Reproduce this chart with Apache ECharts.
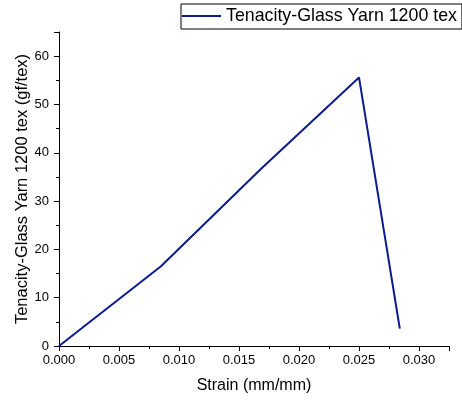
<!DOCTYPE html>
<html>
<head>
<meta charset="utf-8">
<script src="https://cdn.jsdelivr.net/npm/echarts@6/dist/echarts.min.js"></script>
<style>html,body{margin:0;padding:0;background:#fff}#c{width:462px;height:401px}</style>
</head>
<body>
<div id="c"></div>
<script>
var seriesName = 'Tenacity-Glass Yarn 1200 tex';
var strain = [0, 0.0085, 0.0168, 0.025, 0.0284];
var tenacity = [0, 16.5, 36.6, 55.6, 3.6];
var xTicks = [0, 0.005, 0.010, 0.015, 0.020, 0.025, 0.030];
var yTicks = [0, 10, 20, 30, 40, 50, 60];

var FONT = 'Arial';
var chart = echarts.init(document.getElementById('c'), null, {renderer: 'canvas'});
var points = strain.map(function (x, i) { return [x, tenacity[i]]; });
chart.setOption({
  animation: false,
  backgroundColor: '#fff',
  textStyle: {fontFamily: FONT},
  grid: {left: 59, right: 13, top: 32, bottom: 55, containLabel: false},
  legend: {
    left: 181, top: 4,
    padding: [3, 5, 4, 1],
    borderColor: '#000', borderWidth: 1,
    itemWidth: 39, itemHeight: 2,
    icon: 'rect',
    textStyle: {fontFamily: FONT, fontSize: 17.8, color: '#000'},
    data: [seriesName]
  },
  xAxis: {
    type: 'value', min: 0, max: 0.0325, interval: 0.005,
    name: 'Strain (mm/mm)', nameLocation: 'middle', nameGap: 32, nameMoveOverlap: false,
    nameTextStyle: {fontFamily: FONT, fontSize: 16, color: '#000'},
    axisLine: {show: true, lineStyle: {color: '#000', width: 1}},
    axisTick: {show: true, inside: false, length: 5, lineStyle: {color: '#000'}},
    minorTick: {show: true, splitNumber: 2, length: 3, lineStyle: {color: '#000'}},
    splitLine: {show: false},
    axisLabel: {
      margin: 8, fontFamily: FONT, fontSize: 13, color: '#000', showMaxLabel: false,
      formatter: function (v) { return xTicks.some(function (t) { return Math.abs(t - v) < 1e-9; }) ? v.toFixed(3) : ''; }
    }
  },
  yAxis: {
    type: 'value', min: 0, max: 65, interval: 10,
    name: seriesName + ' (gf/tex)', nameLocation: 'middle', nameGap: 28, nameMoveOverlap: false,
    nameTextStyle: {fontFamily: FONT, fontSize: 16.5, color: '#000'},
    axisLine: {show: true, lineStyle: {color: '#000', width: 1}},
    axisTick: {show: true, inside: false, length: 5, lineStyle: {color: '#000'}},
    minorTick: {show: true, splitNumber: 2, length: 3, lineStyle: {color: '#000'}},
    splitLine: {show: false},
    axisLabel: {
      margin: 10, fontFamily: FONT, fontSize: 13, color: '#000', showMaxLabel: false,
      formatter: function (v) { return yTicks.indexOf(v) >= 0 ? String(v) : ''; }
    }
  },
  series: [{
    name: seriesName,
    type: 'line',
    data: points,
    showSymbol: false,
    symbol: 'none',
    color: '#0b1a8c',
    lineStyle: {color: '#0b1a8c', width: 2}
  }]
});
</script>
</body>
</html>
